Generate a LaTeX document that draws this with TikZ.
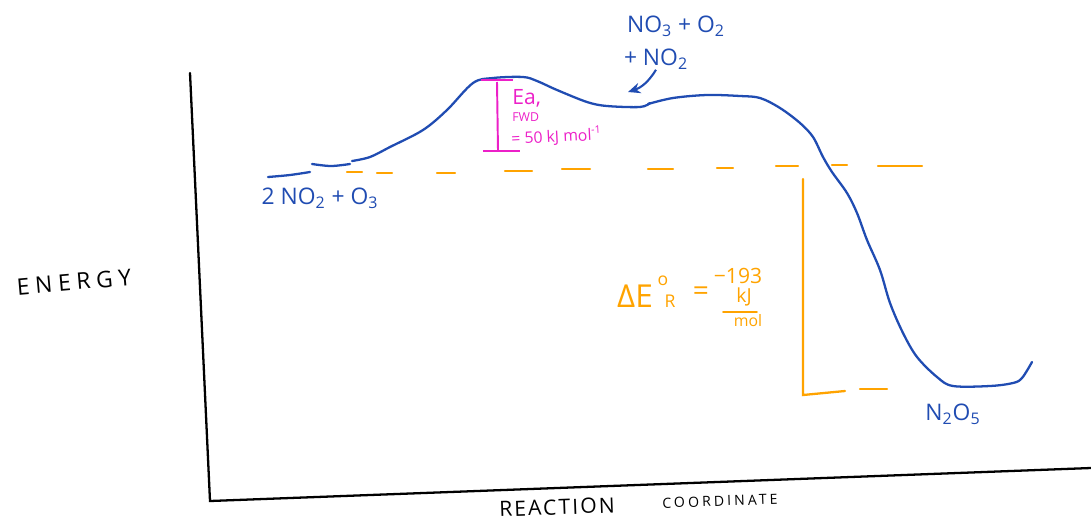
\documentclass[tikz,border=0pt]{standalone}
\usepackage{fontspec}
\setmainfont{Open Sans}
\usetikzlibrary{arrows.meta}
\definecolor{penblue}{RGB}{32,76,178}
\definecolor{penorange}{RGB}{255,163,0}
\definecolor{penpink}{RGB}{236,32,200}

\begin{document}
\begin{tikzpicture}[
    x=0.02cm, y=-0.02cm,
    ax/.style={line width=1.3pt, black, line cap=round},
    curve/.style={line width=1.3pt, draw=penblue, smooth, tension=0.55, line cap=round},
    ptr/.style={-{Stealth[length=7pt, width=6pt]}, line width=1.2pt, penblue},
    edash/.style={line width=1.3pt, draw=penorange, line cap=round},
    eabar/.style={line width=1.1pt, draw=penpink},
    axlbl/.style={inner sep=0pt, text=black},
    blbl/.style={inner sep=0pt, text=penblue, font=\fontsize{13}{15}\selectfont},
    plbl/.style={inner sep=0pt, text=penpink, anchor=west},
    olbl/.style={inner sep=0pt, text=penorange},
]
\useasboundingbox (0,0) rectangle (1091,521);

% axes
\coordinate (ytop) at (190,73);
\coordinate (orig) at (210,501);
\coordinate (xend) at (1091,468);
\draw[ax] (ytop) -- (orig) -- (xend);
\node[axlbl, rotate=5, font=\addfontfeature{LetterSpace=25}\fontsize{13}{15}\selectfont] (energy) at (74,282) {ENERGY};
\node[axlbl, rotate=2, font=\addfontfeature{LetterSpace=10}\fontsize{12}{14}\selectfont] (reac) at (557,507) {REACTION};
\node[axlbl, rotate=2, font=\addfontfeature{LetterSpace=22}\fontsize{8}{10}\selectfont] (coord) at (720,501) {COORDINATE};

% reference level and reaction energy
\foreach \a/\b/\y in {347/362/172, 377/392/173, 437/455/173, 505/532/171, 562/590/169,
                      648/673/169, 717/733/168, 776/798/166, 832/847/165, 878/922/166}
  \draw[edash] (\a,\y) -- (\b,\y);
\draw[edash] (803,179) -- (803,395) -- (845,391);
\draw[edash] (860,389) -- (887,389);

% energy profile
\draw[curve] plot coordinates {(268,177) (290,175) (310,172)};
\draw[curve] plot coordinates {(312,164) (331,166) (350,164)};
\draw[curve] plot coordinates {(352,161) (370,157) (390,147) (423,130) (447,110) (473,83)
  (493,78) (523,77) (537,81) (557,90) (587,102) (607,106) (640,107) (650,103)};
\draw[curve] plot coordinates {(648,104) (673,98) (707,95) (740,96) (760,98) (780,108)
  (800,123) (813,137) (823,157) (832,172) (847,193) (857,213) (867,240) (880,270)
  (890,303) (903,333) (917,357) (937,377) (953,386) (990,386) (1013,383) (1022,378) (1032,362)};

% species
\node[blbl] (react) at (320,198) {2 NO\textsubscript{2} + O\textsubscript{3}};
\node[blbl] (inter) at (676,26) {NO\textsubscript{3} + O\textsubscript{2}};
\node[blbl] (interb) at (656,59) {+ NO\textsubscript{2}};
\node[blbl] (prod) at (953,414) {N\textsubscript{2}O\textsubscript{5}};
\coordinate (ts) at (628,92);
\draw[ptr] (interb.south) to[bend left=20] (ts);

% activation energy
\coordinate (eatop) at (497,80);
\coordinate (eabot) at (498,151);
\draw[eabar] (eatop) ++(-16,0) -- ++(32,0);
\draw[eabar] (eabot) ++(-15,0) -- ++(37,0);
\draw[eabar] (eatop) ++(0,2) -- (eabot);
\node[plbl, font=\fontsize{12}{14}\selectfont] (ea) at (512,98) {Ea,};
\node[plbl, font=\fontsize{7}{8}\selectfont] (fwd) at (512,117) {FWD};
\node[plbl, rotate=3, font=\fontsize{9}{10}\selectfont] (eaval) at (511,139) {= 50 kJ mol\textsuperscript{-1}};

% reaction energy label
\node[olbl, font=\fontsize{18}{20}\selectfont] (dele) at (635,296) {ΔE};
\node[olbl, font=\fontsize{10}{12}\selectfont] (deo) at (663,281) {o};
\node[olbl, font=\fontsize{10}{12}\selectfont] (der) at (670,301) {R};
\node[olbl, font=\fontsize{16}{18}\selectfont] (deq) at (701,294) {=};
\node[olbl, font=\fontsize{12}{14}\selectfont] (dval) at (738,276) {−193};
\node[olbl, font=\fontsize{11}{13}\selectfont] (dkj) at (744,297) {kJ};
\draw[edash, line width=1pt] (723,312) -- (757,312);
\node[olbl, font=\fontsize{9}{11}\selectfont] (dmol) at (748,321) {mol};
\end{tikzpicture}
\end{document}
